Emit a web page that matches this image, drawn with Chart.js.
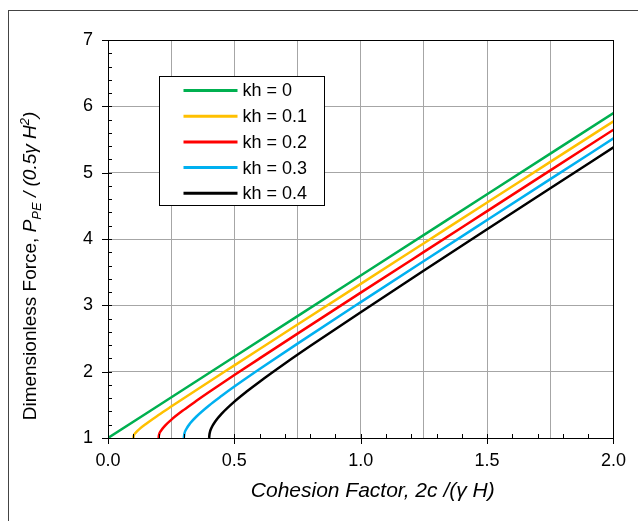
<!DOCTYPE html>
<html>
<head>
<meta charset="utf-8">
<script src="https://cdn.jsdelivr.net/npm/chart.js@4.4.0/dist/chart.umd.min.js"></script>
<style>
  html, body { margin: 0; padding: 0; background: #fff; }
  #wrap { position: relative; width: 638px; height: 521px; overflow: hidden; }
  #frame { position: absolute; left: 8px; top: 10px; width: 700px; height: 600px; border: 1px solid #444; box-sizing: border-box; }
  #chart { position: absolute; left: 0; top: 0; }
</style>
</head>
<body>
<div id="wrap">
  <div id="frame"></div>
  <canvas id="chart" width="638" height="521"></canvas>
</div>
<script>
// curves P_PE/(0.5 gamma H^2) vs 2c/(gamma H), one per kh
const seriesLabels = ['kh = 0', 'kh = 0.1', 'kh = 0.2', 'kh = 0.3', 'kh = 0.4'];

const xKh0 = [0, 0.5, 1.0, 1.5, 2.0];
const yKh0 = [1, 2.225, 3.449, 4.674, 5.899];

const xKh1 = [0.1, 0.102, 0.11, 0.125, 0.15, 0.2, 0.25, 0.3, 0.4, 0.5, 0.75, 1.0, 1.25, 1.5, 1.75, 2.0];
const yKh1 = [1, 1.035, 1.081, 1.137, 1.212, 1.346, 1.474, 1.600, 1.849, 2.095, 2.710, 3.324, 3.937, 4.550, 5.162, 5.775];

const xKh2 = [0.2, 0.202, 0.21, 0.225, 0.25, 0.3, 0.35, 0.4, 0.5, 0.6, 0.75, 1.0, 1.25, 1.5, 1.75, 2.0];
const yKh2 = [1, 1.049, 1.112, 1.184, 1.274, 1.424, 1.561, 1.693, 1.949, 2.200, 2.573, 3.191, 3.806, 4.420, 5.034, 5.648];

const xKh3 = [0.3, 0.302, 0.31, 0.325, 0.35, 0.4, 0.45, 0.5, 0.6, 0.75, 1.0, 1.25, 1.5, 1.75, 2.0];
const yKh3 = [1, 1.060, 1.136, 1.221, 1.324, 1.490, 1.636, 1.775, 2.039, 2.423, 3.049, 3.669, 4.286, 4.902, 5.517];

const xKh4 = [0.4, 0.402, 0.41, 0.425, 0.45, 0.5, 0.55, 0.6, 0.7, 0.8, 1.0, 1.25, 1.5, 1.75, 2.0];
const yKh4 = [1, 1.069, 1.157, 1.252, 1.367, 1.548, 1.704, 1.849, 2.123, 2.386, 2.897, 3.525, 4.146, 4.765, 5.382];

// axes
const xMin = 0, xMax = 2, xGridStep = 0.25, xLabelStep = 0.5, xMinorStep = 0.1;
const yMin = 1, yMax = 7, yLabelStep = 1, yMinorStep = 0.2;

const colors = ['#00b050', '#ffc000', '#ff0000', '#00b0f0', '#000000'];
const FONT = '"Liberation Sans", Arial, sans-serif';

function toPoints(xs, ys) {
  return xs.map((x, i) => ({ x: x, y: ys[i] }));
}

const allX = [xKh0, xKh1, xKh2, xKh3, xKh4];
const allY = [yKh0, yKh1, yKh2, yKh3, yKh4];

const datasets = seriesLabels.map((lbl, i) => ({
  label: lbl,
  data: toPoints(allX[i], allY[i]),
  borderColor: colors[i],
  backgroundColor: colors[i],
  borderWidth: 2.5,
  pointRadius: 0,
  showLine: true,
  fill: false,
  cubicInterpolationMode: 'monotone'
}));

// plot frame, tick marks, legend box and the axis titles
const extras = {
  id: 'extras',
  afterDraw(chart) {
    const ctx = chart.ctx;
    const a = chart.chartArea;
    const xs = chart.scales.x, ys = chart.scales.y;
    ctx.save();

    // border around plot area
    ctx.strokeStyle = '#000';
    ctx.lineWidth = 1;
    ctx.strokeRect(Math.round(a.left) + 0.5, Math.round(a.top) + 0.5,
      Math.round(a.right - a.left), Math.round(a.bottom - a.top));

    ctx.beginPath();
    // minor ticks point inwards
    for (let i = 0; i <= Math.round((xMax - xMin) / xMinorStep); i++) {
      const px = Math.round(xs.getPixelForValue(xMin + i * xMinorStep)) + 0.5;
      ctx.moveTo(px, a.bottom);
      ctx.lineTo(px, a.bottom - 4);
    }
    for (let i = 0; i <= Math.round((yMax - yMin) / yMinorStep); i++) {
      const py = Math.round(ys.getPixelForValue(yMin + i * yMinorStep)) + 0.5;
      ctx.moveTo(a.left, py);
      ctx.lineTo(a.left + 4, py);
    }
    // major ticks point outwards
    for (let i = 0; i <= Math.round((xMax - xMin) / xLabelStep); i++) {
      const px = Math.round(xs.getPixelForValue(xMin + i * xLabelStep)) + 0.5;
      ctx.moveTo(px, a.bottom);
      ctx.lineTo(px, a.bottom + 6);
    }
    for (let i = 0; i <= Math.round((yMax - yMin) / yLabelStep); i++) {
      const py = Math.round(ys.getPixelForValue(yMin + i * yLabelStep)) + 0.5;
      ctx.moveTo(a.left, py);
      ctx.lineTo(a.left - 6, py);
    }
    ctx.stroke();

    // legend
    const bx = Math.round(a.left + 51) + 0.5, by = Math.round(a.top + 36) + 0.5;
    const bw = 165, bh = 129;
    ctx.fillStyle = '#fff';
    ctx.fillRect(bx, by, bw, bh);
    ctx.strokeStyle = '#000';
    ctx.strokeRect(bx, by, bw, bh);
    ctx.font = '18px ' + FONT;
    ctx.textBaseline = 'middle';
    ctx.textAlign = 'left';
    chart.data.datasets.forEach((ds, i) => {
      const ry = by + 14 + i * 25.7;
      ctx.strokeStyle = ds.borderColor;
      ctx.lineWidth = 3;
      ctx.beginPath();
      ctx.moveTo(bx + 24, ry);
      ctx.lineTo(bx + 78, ry);
      ctx.stroke();
      ctx.fillStyle = '#000';
      ctx.fillText(ds.label, bx + 83, ry + 1);
    });

    // x axis title
    ctx.fillStyle = '#000';
    ctx.font = 'italic 21px ' + FONT;
    ctx.textAlign = 'center';
    ctx.textBaseline = 'middle';
    ctx.fillText('Cohesion Factor, 2c /(\u03b3 H)', (a.left + a.right) / 2 + 12, a.bottom + 53);

    // y axis title, mixed fonts with sub/superscript
    const parts = [
      { t: 'Dimensionless Force, ', f: '19px ' + FONT, dy: 0 },
      { t: 'P', f: 'italic 19px ' + FONT, dy: 0 },
      { t: 'PE', f: 'italic 13px ' + FONT, dy: 5 },
      { t: ' / (0.5', f: 'italic 19px ' + FONT, dy: 0 },
      { t: '\u03b3', f: 'italic 19px ' + FONT, dy: 0 },
      { t: ' H', f: 'italic 19px ' + FONT, dy: 0 },
      { t: '2', f: 'italic 13px ' + FONT, dy: -7 },
      { t: ')', f: 'italic 19px ' + FONT, dy: 0 }
    ];
    let total = 0;
    parts.forEach(p => { ctx.font = p.f; p.w = ctx.measureText(p.t).width; total += p.w; });
    ctx.translate(30, (a.top + a.bottom) / 2 + 27);
    ctx.rotate(-Math.PI / 2);
    ctx.textAlign = 'left';
    ctx.textBaseline = 'alphabetic';
    let cx = -total / 2;
    parts.forEach(p => {
      ctx.font = p.f;
      ctx.fillText(p.t, cx, 6 + p.dy);
      cx += p.w;
    });
    ctx.restore();
  }
};

new Chart(document.getElementById('chart'), {
  type: 'scatter',
  data: { datasets: datasets },
  options: {
    responsive: false,
    animation: false,
    devicePixelRatio: 1,
    layout: { padding: { left: 0, top: 40, right: 24, bottom: 0 } },
    plugins: {
      legend: { display: false },
      tooltip: { enabled: false }
    },
    scales: {
      x: {
        type: 'linear',
        min: xMin,
        max: xMax,
        afterFit: (s) => { s.height = 83; },
        grid: { color: '#a6a6a6', lineWidth: 1, drawTicks: false },
        border: { color: '#000', width: 1 },
        ticks: {
          stepSize: xGridStep,
          autoSkip: false,
          maxRotation: 0,
          padding: 12,
          color: '#000',
          font: { family: FONT, size: 18 },
          callback: (v) => Math.abs(v / xLabelStep - Math.round(v / xLabelStep)) < 1e-6 ? v.toFixed(1) : ''
        }
      },
      y: {
        type: 'linear',
        min: yMin,
        max: yMax,
        afterFit: (s) => { s.width = 108; },
        grid: { color: '#a6a6a6', lineWidth: 1, drawTicks: false },
        border: { color: '#000', width: 1 },
        ticks: {
          stepSize: yLabelStep,
          padding: 15,
          color: '#000',
          font: { family: FONT, size: 18 },
          callback: (v) => String(v)
        }
      }
    }
  },
  plugins: [extras]
});
</script>
</body>
</html>
